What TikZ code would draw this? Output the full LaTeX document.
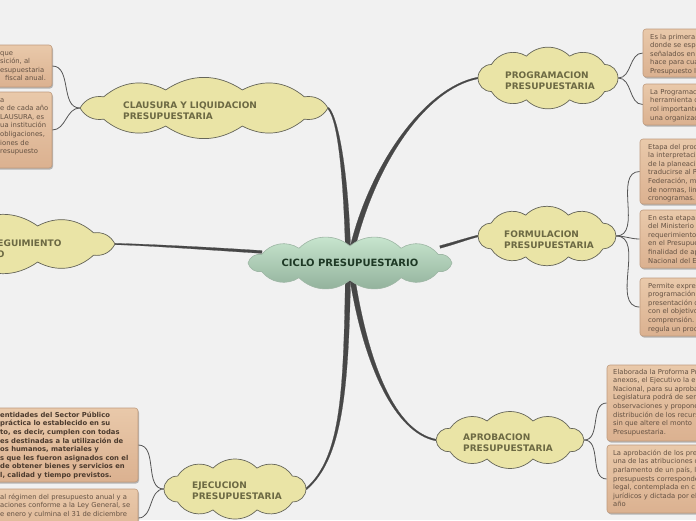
\documentclass[tikz,border=0pt]{standalone}
\usepackage{fontspec}
\setmainfont{DejaVu Sans}
\usetikzlibrary{shadows,calc}
\definecolor{bg}{HTML}{F1F1F1}
\definecolor{cloudfill}{HTML}{EAE4A6}
\definecolor{cloudline}{HTML}{66665A}
\definecolor{cloudtext}{HTML}{6C6943}
\definecolor{centop}{HTML}{CBE8D1}
\definecolor{cenbot}{HTML}{8FAF99}
\definecolor{cenline}{HTML}{9FB8A6}
\definecolor{centext}{HTML}{1E3925}
\definecolor{boxtop}{HTML}{E9C9AA}
\definecolor{boxbot}{HTML}{DBB190}
\definecolor{boxline}{HTML}{BF9B7E}
\definecolor{boxtext}{HTML}{655243}
\definecolor{boxbold}{HTML}{4B3A2D}
\definecolor{lk}{HTML}{474747}
\definecolor{thinlk}{HTML}{555555}
\pgfdeclarelayer{bgl}
\pgfdeclarelayer{back}
\pgfdeclarelayer{mid}
\pgfsetlayers{bgl,back,mid,main}
\newcommand\ts{\rule{0pt}{5.2pt}}
\newcommand\taperlink[6]{%
 \fill[linkc] ($(#1)!#5!90:(#2)$) .. controls ($(#2)!#5!-90:(#1)$) and ($(#3)!#6!90:(#4)$) .. ($(#4)!#6!-90:(#3)$)
   -- ($(#4)!#6!90:(#3)$) .. controls ($(#3)!#6!-90:(#4)$) and ($(#2)!#5!90:(#1)$) .. ($(#1)!#5!-90:(#2)$) -- cycle;}
% #1 node, #2 a, #3 b, #4 puffs, #5 bend, #6 style
\newcommand\puffcloud[6]{%
 \begin{pgfonlayer}{mid}
 \fill[cshadow, xshift=1pt, yshift=-2pt] ($(#1)+(#2,0)$) \foreach \i in {1,...,#4}{ to[bend left=#5] ($(#1)+({#2*cos(360*\i/#4)},{#3*sin(360*\i/#4)})$)} -- cycle;
 \path[#6] ($(#1)+(#2,0)$) \foreach \i in {1,...,#4}{ to[bend left=#5] ($(#1)+({#2*cos(360*\i/#4)},{#3*sin(360*\i/#4)})$)} -- cycle;
 \end{pgfonlayer}}
\tikzset{
 linkc/.style={fill=lk, draw=lk, line width=0.2pt},
 thinlink/.style={draw=thinlk, line width=0.8pt},
 cshadow/.style={fill=black, fill opacity=0.22},
 cnode/.style={inner sep=0pt, draw=none},
 ypath/.style={draw=cloudline, line width=0.7pt, fill=cloudfill},
 cpath/.style={draw=cenline, line width=0.6pt, top color=centop, bottom color=cenbot},
 tbox/.style={rectangle, rounded corners=3pt, draw=boxline, line width=0.6pt, top color=boxtop, bottom color=boxbot, inner sep=0pt,
   drop shadow={shadow xshift=1pt, shadow yshift=-1.5pt, fill=black, opacity=0.25}},
 ctext/.style={anchor=north west, inner sep=0pt, align=left, text=cloudtext, font=\fontsize{9}{11}\selectfont\bfseries},
 btext/.style={anchor=north west, inner sep=0pt, align=left, text=boxtext, font=\fontsize{6.8}{8.6}\selectfont},
 bbtext/.style={anchor=north west, inner sep=0pt, align=left, text=boxbold, font=\fontsize{6.8}{8.6}\selectfont\bfseries},
}
\begin{document}
\begin{tikzpicture}[x=1pt,y=-1pt]
\useasboundingbox (0,0) rectangle (696,520);
\begin{pgfonlayer}{bgl}
\fill[bg] (0,0) rectangle (696,520);
\end{pgfonlayer}

% central
\node[cnode, minimum width=204pt, minimum height=34pt, text=centext, font=\fontsize{10}{12}\selectfont\bfseries] (cen) at (350,263) {CICLO PRESUPUESTARIO};
\puffcloud{cen}{102}{17}{12}{42}{cpath}

% main clouds
\node[cnode, minimum width=248pt, minimum height=38pt] (clausura) at (204,108) {};
\puffcloud{clausura}{124}{19}{10}{34}{ypath}
\node[ctext] (clausurat) at (123,101.7) {CLAUSURA Y LIQUIDACION\\PRESUPUESTARIA};

\node[cnode, minimum width=224pt, minimum height=38pt] (seguimiento) at (3,244) {};
\puffcloud{seguimiento}{112}{19}{10}{35}{ypath}
\node[ctext] (seguimientot) at (-86,239.7) {EVALUACION Y SEGUIMIENTO\\PRESUPUESTARIO};

\node[cnode, minimum width=140pt, minimum height=46pt] (programacion) at (548,78) {};
\puffcloud{programacion}{70}{23}{10}{45}{ypath}
\node[ctext] (programaciont) at (505,71.7) {PROGRAMACION\\PRESUPUESTARIA};

\node[cnode, minimum width=138pt, minimum height=44pt] (formulacion) at (547,236) {};
\puffcloud{formulacion}{69}{22}{10}{45}{ypath}
\node[ctext] (formulaciont) at (504,230.2) {FORMULACION\\PRESUPUESTARIA};

\node[cnode, minimum width=148pt, minimum height=40pt] (aprobacion) at (510,440) {};
\puffcloud{aprobacion}{74}{20}{10}{45}{ypath}
\node[ctext] (aprobaciont) at (463,433.7) {APROBACION\\PRESUPUESTARIA};

\node[cnode, minimum width=142pt, minimum height=44pt] (ejecucion) at (235,489) {};
\puffcloud{ejecucion}{71}{22}{10}{45}{ypath}
\node[ctext] (ejecuciont) at (192,481.7) {EJECUCION\\PRESUPUESTARIA};

% left boxes
\node[tbox, minimum width=112pt, minimum height=42pt] (l1) at (-4,66) {};
\node[btext] (l1t) at (0,49.6) {\ts que\\sición, al\\esupuestaria\\\hspace*{5pt}fiscal anual.};
\node[tbox, minimum width=112pt, minimum height=76pt] (l2) at (-4,130) {};
\node[btext] (l2t) at (0,96.6) {\ts a\\e de cada año\\LAUSURA, es\\ua institución\\obligaciones,\\iones de\\resupuesto};

\node[tbox, minimum width=238pt, minimum height=74pt] (lb1) at (19,445) {};
\node[bbtext] (lb1t) at (0,411.6) {\ts entidades del Sector Público\\práctica lo establecido en su\\to, es decir, cumplen con todas\\es destinadas a la utilización de\\os humanos, materiales y\\s que les fueron asignados con el\\de obtener bienes y servicios en\\l, calidad y tiempo previstos.};
\node[tbox, minimum width=238pt, minimum height=58pt] (lb2) at (19,518) {};
\node[btext] (lb2t) at (0,493.6) {\ts al régimen del presupuesto anual y a\\aciones conforme a la Ley General, se\\e enero y culmina el 31 de diciembre};

% right boxes
\node[tbox, minimum width=117pt, minimum height=48pt] (r1) at (701.5,53) {};
\node[btext] (r1t) at (650,33.6) {\ts Es la primera\\donde se espec\\señalados en l\\hace para cual\\Presupuesto I};
\node[tbox, minimum width=117pt, minimum height=41pt] (r2) at (701.5,104.5) {};
\node[btext] (r2t) at (650,88.6) {\ts La Programación\\herramienta de\\rol importante\\una organización};
\node[tbox, minimum width=120pt, minimum height=65pt] (r3) at (700,171.5) {};
\node[btext] (r3t) at (648,143.6) {\ts Etapa del proceso\\la interpretación\\de la planeación\\traducirse al Pre\\Federación, me\\de normas, line\\cronogramas.};
\node[tbox, minimum width=120pt, minimum height=58pt] (r4) at (700,239) {};
\node[btext] (r4t) at (648,214.6) {\ts En esta etapa\\del Ministerio\\requerimientos\\en el Presupuesto\\finalidad de apo\\Nacional del Est};
\node[tbox, minimum width=120pt, minimum height=58pt] (r5) at (700,307) {};
\node[btext] (r5t) at (648,282.6) {\ts Permite expresar\\programación\\presentación d\\con el objetivo\\comprensión. E\\regula un proce};
\node[tbox, minimum width=153pt, minimum height=76pt] (r6) at (683.5,403) {};
\node[btext] (r6t) at (613,368.6) {\ts Elaborada la Proforma Pre\\anexos, el Ejecutivo la en\\Nacional, para su aproba\\Legislatura podrá de ser\\observaciones y propone\\distribución de los recurs\\sin que altere el monto\\Presupuestaria.};
\node[tbox, minimum width=153pt, minimum height=68pt] (r7) at (683.5,479) {};
\node[btext] (r7t) at (613,449.6) {\ts La aprobación de los pre\\una de las atribuciones d\\parlamento de un país, l\\presupuests corresponde\\legal, contemplada en c\\jurídicos y dictada por el\\año};

% connectors
\begin{pgfonlayer}{back}
\coordinate (a1) at (348,250); \coordinate (k1a) at (346,180); \coordinate (k1b) at (339,120);
\coordinate (a2) at (352,250); \coordinate (k2a) at (372,165); \coordinate (k2b) at (425,88);
\coordinate (a3) at (262,252); \coordinate (k3a) at (200,248); \coordinate (k3b) at (150,245);
\coordinate (a4) at (440,247); \coordinate (k4a) at (455,243); \coordinate (k4b) at (466,239);
\coordinate (a5) at (352,276); \coordinate (k5a) at (366,365); \coordinate (k5b) at (395,432);
\coordinate (a6) at (348,276); \coordinate (k6a) at (346,390); \coordinate (k6b) at (342,458);
\taperlink{a1}{k1a}{k1b}{clausura.east}{2.6pt}{0.8pt}
\taperlink{a2}{k2a}{k2b}{programacion.west}{2.6pt}{0.8pt}
\taperlink{a3}{k3a}{k3b}{seguimiento.east}{1.4pt}{0.7pt}
\taperlink{a4}{k4a}{k4b}{formulacion.west}{1.3pt}{0.9pt}
\taperlink{a5}{k5a}{k5b}{aprobacion.west}{2.6pt}{0.8pt}
\taperlink{a6}{k6a}{k6b}{ejecucion.east}{2.6pt}{0.8pt}

\draw[thinlink] (clausura.west) to[out=180,in=0] (l1.east);
\draw[thinlink] (clausura.west) to[out=180,in=0] (l2.east);
\draw[thinlink] (ejecucion.west) to[out=180,in=0] (lb1.east);
\draw[thinlink] (ejecucion.west) to[out=180,in=0] (lb2.east);
\draw[thinlink] (programacion.east) to[out=0,in=180] (r1.west);
\draw[thinlink] (programacion.east) to[out=0,in=180] (r2.west);
\draw[thinlink] (formulacion.east) to[out=0,in=180] (r3.west);
\draw[thinlink] (formulacion.east) to[out=0,in=180] (r4.west);
\draw[thinlink] (formulacion.east) to[out=0,in=180] (r5.west);
\draw[thinlink] (aprobacion.east) to[out=0,in=180] (r6.west);
\draw[thinlink] (aprobacion.east) to[out=0,in=180] (r7.west);
\end{pgfonlayer}
\end{tikzpicture}
\end{document}
